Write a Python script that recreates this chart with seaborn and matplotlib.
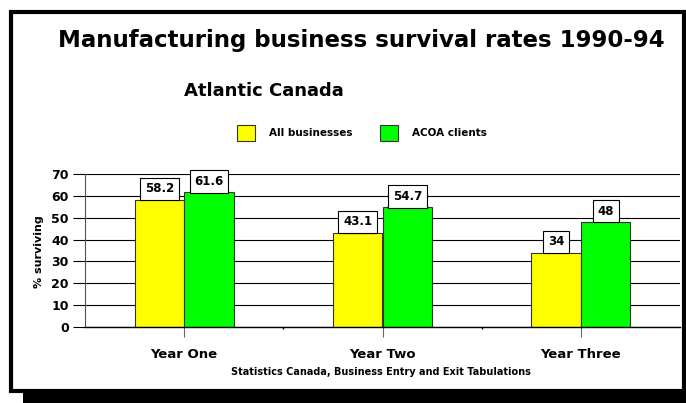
import matplotlib
matplotlib.use("Agg")
import matplotlib.pyplot as plt
from matplotlib.patches import Rectangle
from matplotlib.ticker import FixedLocator
import seaborn as sns
import pandas as pd

# Survival rates (% of firms still operating) by year since start-up
years = ["Year One", "Year Two", "Year Three"]
groups = ["All businesses", "ACOA clients"]
all_businesses = [58.2, 43.1, 34]
acoa_clients = [61.6, 54.7, 48]
bar_colors = ["#FFFF00", "#00FF00"]

df = pd.DataFrame({
    "year": years * 2,
    "group": [groups[0]] * len(years) + [groups[1]] * len(years),
    "rate": all_businesses + acoa_clients,
})

sns.set_style("white")
plt.rcParams["font.family"] = ["DejaVu Sans"]
plt.rcParams["font.weight"] = "bold"
plt.rcParams["axes.labelweight"] = "bold"
plt.rcParams["text.color"] = "black"
plt.rcParams["axes.labelcolor"] = "black"
plt.rcParams["xtick.color"] = "black"
plt.rcParams["ytick.color"] = "black"

W, H = 686, 403
fig = plt.figure(figsize=(W / 100, H / 100), dpi=100)
fig.patch.set_facecolor("white")


def px(x, y):
    """pixel position (from top-left) -> figure fraction"""
    return x / W, 1 - y / H


# framed panel with a drop shadow
fig.patches.append(Rectangle((23 / W, 0), 1, (H - 393) / H, transform=fig.transFigure,
                             facecolor="black", edgecolor="none", zorder=-3))
fig.patches.append(Rectangle((696 / W, 0), 1, 1, transform=fig.transFigure,
                             facecolor="black", edgecolor="none", zorder=-3))
fig.patches.append(Rectangle(px(11, 391), (684 - 11) / W, (391 - 12) / H,
                             transform=fig.transFigure, facecolor="white",
                             edgecolor="black", linewidth=3.0, zorder=-2))

left, right, top, bottom = 85, 680, 174, 327
ax = fig.add_axes([left / W, 1 - bottom / H, (right - left) / W, (bottom - top) / H])
ax.set_facecolor("none")

sns.barplot(data=df, x="year", y="rate", hue="group", hue_order=groups,
            palette=bar_colors, width=0.5, edgecolor="#333333", linewidth=0.8,
            saturation=1, ax=ax)

ax.set_ylim(0, 70)
ax.set_xlim(-0.5, 2.5)
ax.set_yticks(range(0, 71, 10))
ax.set_axisbelow(True)
ax.yaxis.grid(True, color="black", linewidth=0.8)
ax.xaxis.grid(False)

for s in ["top", "right"]:
    ax.spines[s].set_visible(False)
ax.spines["left"].set_color("#555555")
ax.spines["left"].set_linewidth(0.8)
ax.spines["bottom"].set_color("black")
ax.spines["bottom"].set_linewidth(1.0)

ax.tick_params(axis="y", direction="out", length=8.6, width=0.8, color="black",
               labelsize=9, labelcolor="black", pad=3, left=True)
ax.tick_params(axis="x", which="major", direction="out", length=7, width=0.8,
               color="#666666", labelsize=9.5, labelcolor="black", pad=8, bottom=True)
ax.xaxis.set_minor_locator(FixedLocator([0.5, 1.5]))
ax.tick_params(axis="x", which="minor", direction="out", length=1.5, width=1,
               color="black", bottom=True)

ax.set_xlabel("")
ax.set_ylabel("% surviving", fontsize=8, color="black")
ax.yaxis.set_label_coords((44 - left) / (right - left), (bottom - 252) / (bottom - top))

# boxed value labels on top of each bar
for cont, vals in zip(ax.containers, [all_businesses, acoa_clients]):
    ax.bar_label(cont, labels=[f"{v:g}" for v in vals], padding=3.2, fontsize=8.5,
                 fontweight="bold", color="black", zorder=5,
                 bbox=dict(boxstyle="square,pad=0.4", facecolor="white",
                           edgecolor="black", linewidth=0.8))

sns.move_legend(ax, "center left", bbox_to_anchor=px(237, 133),
                bbox_transform=fig.transFigure, ncol=2, title=None, frameon=False,
                borderpad=0, borderaxespad=0, handlelength=1.7, handleheight=1.9,
                handletextpad=1.35, columnspacing=2.7,
                prop={"weight": "bold", "size": 7.5})
for t in ax.get_legend().get_texts():
    t.set_color("black")

fig.text(*px(361, 41), "Manufacturing business survival rates 1990-94",
         ha="center", va="center", fontsize=16.5, fontweight="bold", color="black")
fig.text(*px(264, 91), "Atlantic Canada", ha="center", va="center",
         fontsize=13, fontweight="bold", color="black")
fig.text(*px(381, 372), "Statistics Canada, Business Entry and Exit Tabulations",
         ha="center", va="center", fontsize=7, fontweight="bold", color="black")

fig.savefig("out.png", dpi=100)
